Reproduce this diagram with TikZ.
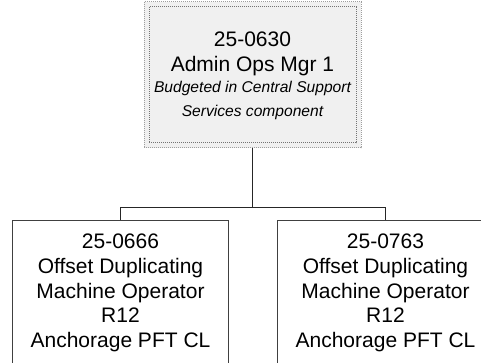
\documentclass[tikz,border=0pt]{standalone}
\usepackage{fontspec}
\setmainfont{Liberation Sans}
\begin{document}
\begin{tikzpicture}[x=0.75pt,y=-0.75pt,
  big/.style={font=\fontsize{15.75}{18}\selectfont, inner sep=0pt, anchor=base},
  small/.style={font=\fontsize{11.7}{14}\selectfont\itshape, inner sep=0pt, anchor=base},
  conn/.style={draw=black!85, line width=0.8pt},
  posbox/.style={draw=black!75, line width=0.75pt, fill=white, rectangle, inner sep=0pt,
    anchor=north, minimum width=161.6pt, minimum height=150pt},
  outerdots/.style={draw=black!38, fill=black!6, line width=0.75pt, dash pattern=on 0.75pt off 0.75pt, rectangle, inner sep=0pt},
  innerdots/.style={draw=black!55, line width=0.75pt, dash pattern=on 0.75pt off 0.75pt, rectangle, inner sep=0pt}]
\useasboundingbox (0,0) rectangle (481,363);
\clip (0,0) rectangle (481,363);
% top box
\node[outerdots, minimum width=162.75pt, minimum height=109.5pt] (top) at (252.5,75) {};
\node[innerdots, minimum width=155.25pt, minimum height=102pt] (topin) at (252.5,75) {};
\node[big] (t1) at (252.5,47) {25-0630};
\node[big] (t2) at (252.5,72) {Admin Ops Mgr 1};
\node[small] (t3) at (252.5,93) {Budgeted in Central Support};
\node[small] (t4) at (252.5,117) {Services component};
% bottom boxes
\node[posbox] (left) at (120.5,220) {};
\node[posbox] (right) at (385.5,220) {};
\foreach \txt [count=\i from 0] in {25-0666, Offset Duplicating, Machine Operator, R12, Anchorage PFT CL}
  \node[big] (l\i) at (120.5,248.5+24.8*\i) {\txt};
\foreach \txt [count=\i from 0] in {25-0763, Offset Duplicating, Machine Operator, R12, Anchorage PFT CL}
  \node[big] (r\i) at (385.5,248.5+24.8*\i) {\txt};
% connectors
\coordinate (bus) at (252.5,207.5);
\draw[conn] (top.south) -- (bus);
\draw[conn] (bus) -| (left.north);
\draw[conn] (bus) -| (right.north);
\end{tikzpicture}
\end{document}
